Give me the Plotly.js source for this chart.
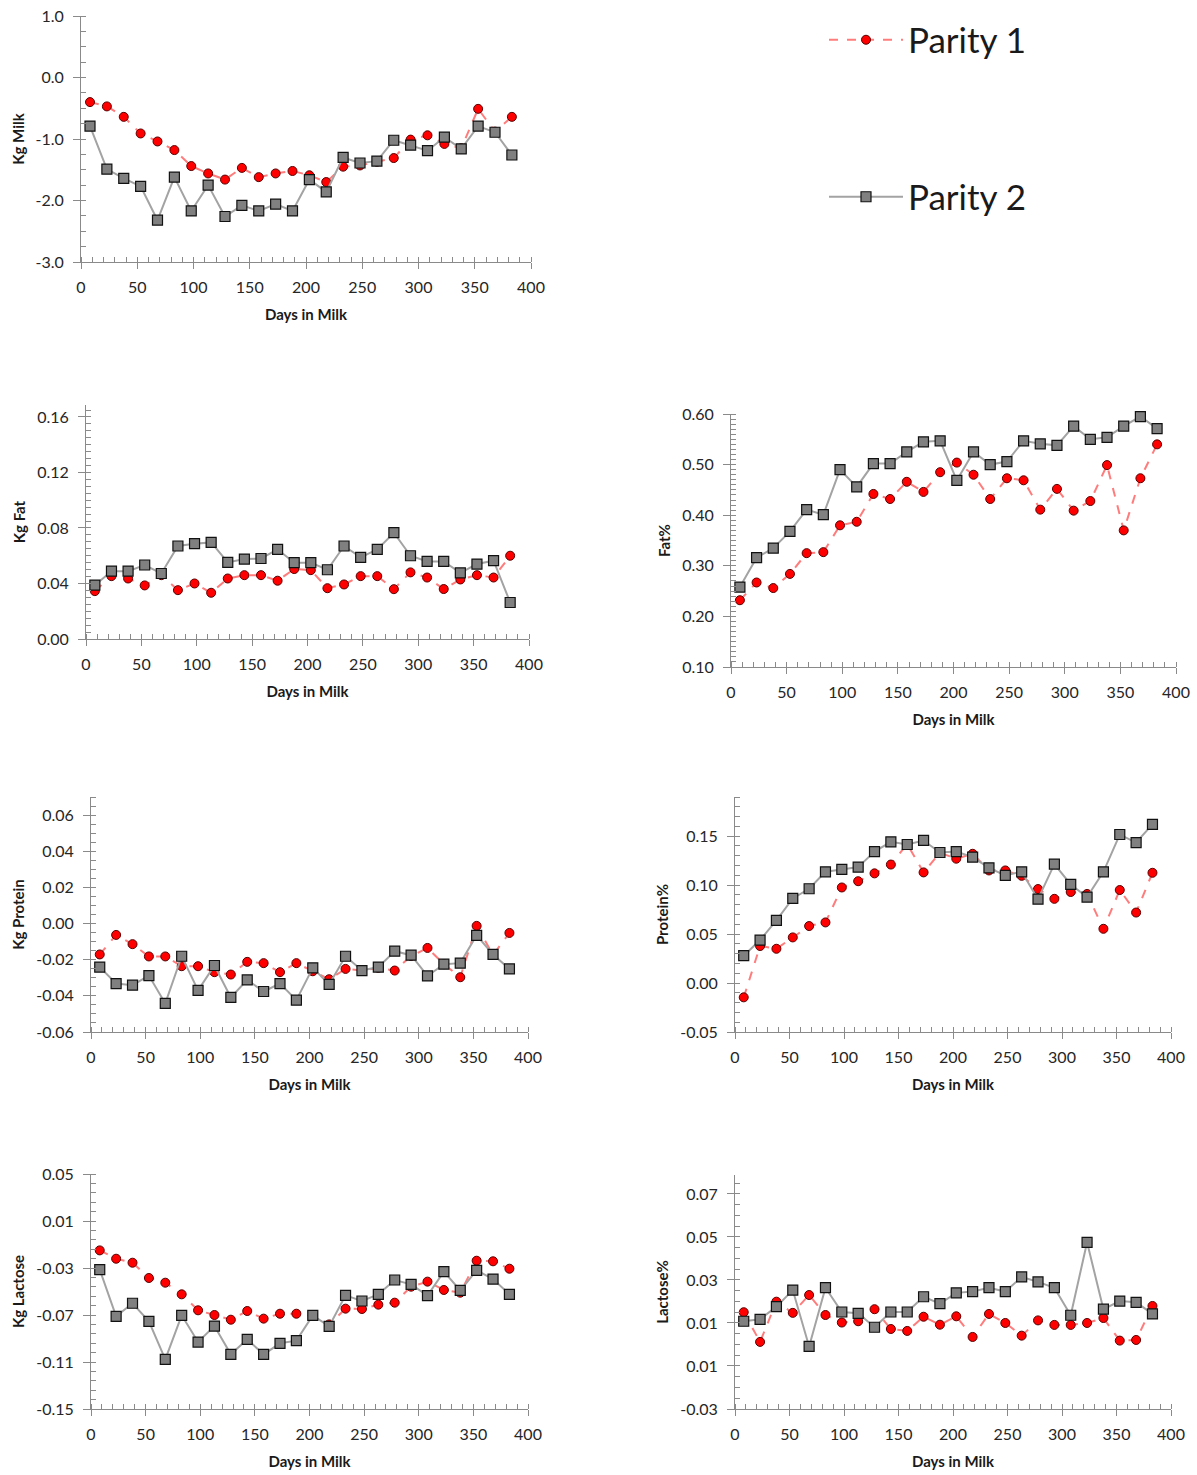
<!DOCTYPE html>
<html>
<head>
<meta charset="utf-8">
<script src="https://cdn.plot.ly/plotly-3.0.1.min.js"></script>
<style>
  html, body { margin: 0; padding: 0; background: #ffffff; }
  #chart { width: 1197px; height: 1475px; }
</style>
</head>
<body>
<div id="chart"></div>
<script>
// ---------- data ----------
const days = [8, 23, 38, 53, 68, 83, 98, 113, 128, 143, 158, 173, 188, 203, 218, 233, 248, 263, 278, 293, 308, 323, 338, 353, 368, 383];

const milkP1 = [-0.40, -0.47, -0.64, -0.91, -1.04, -1.18, -1.44, -1.56, -1.66, -1.47, -1.62, -1.56, -1.52, -1.59, -1.70, -1.45, -1.43, -1.37, -1.31, -1.01, -0.94, -1.08, -1.15, -0.51, -0.88, -0.64];
const milkP2 = [-0.79, -1.49, -1.64, -1.77, -2.32, -1.62, -2.17, -1.75, -2.26, -2.08, -2.17, -2.06, -2.17, -1.66, -1.86, -1.30, -1.39, -1.36, -1.02, -1.10, -1.19, -0.97, -1.16, -0.79, -0.89, -1.26];

const fatKgP1 = [0.0345, 0.0453, 0.0436, 0.0386, 0.046, 0.0352, 0.0400, 0.0333, 0.0436, 0.0460, 0.0460, 0.0420, 0.0504, 0.0496, 0.0366, 0.0393, 0.0453, 0.0453, 0.0359, 0.0480, 0.0443, 0.0360, 0.0429, 0.0460, 0.0443, 0.0600];
const fatKgP2 = [0.0388, 0.0489, 0.0489, 0.0533, 0.0472, 0.0670, 0.0687, 0.0696, 0.0552, 0.0576, 0.0580, 0.0646, 0.0550, 0.0550, 0.0499, 0.0670, 0.0588, 0.0646, 0.0766, 0.0600, 0.0559, 0.0559, 0.0477, 0.0540, 0.0564, 0.0263];

const fatPctP1 = [0.232, 0.267, 0.256, 0.284, 0.325, 0.327, 0.380, 0.387, 0.442, 0.432, 0.466, 0.446, 0.485, 0.504, 0.480, 0.432, 0.473, 0.469, 0.411, 0.452, 0.409, 0.428, 0.499, 0.370, 0.473, 0.540];
const fatPctP2 = [0.258, 0.316, 0.335, 0.368, 0.411, 0.401, 0.490, 0.456, 0.502, 0.502, 0.525, 0.545, 0.547, 0.469, 0.525, 0.500, 0.506, 0.547, 0.541, 0.538, 0.576, 0.550, 0.554, 0.576, 0.595, 0.571];

const protKgP1 = [-0.0171, -0.0063, -0.0114, -0.0182, -0.0182, -0.0236, -0.0236, -0.0269, -0.0282, -0.0212, -0.0219, -0.0269, -0.0219, -0.0264, -0.0308, -0.0251, -0.0260, -0.0245, -0.0260, -0.0180, -0.0135, -0.0225, -0.0297, -0.0013, -0.0173, -0.0052];
const protKgP2 = [-0.0241, -0.0332, -0.0341, -0.0288, -0.0442, -0.0181, -0.0370, -0.0232, -0.0409, -0.0312, -0.0376, -0.0332, -0.0424, -0.0245, -0.0337, -0.0181, -0.0260, -0.0241, -0.0153, -0.0175, -0.0290, -0.0225, -0.0219, -0.0065, -0.0171, -0.0251];

const protPctP1 = [-0.0146, 0.0378, 0.0350, 0.0466, 0.0582, 0.0619, 0.0976, 0.1040, 0.1120, 0.1210, 0.1420, 0.1130, 0.1330, 0.1270, 0.1320, 0.1150, 0.1150, 0.1095, 0.0960, 0.0860, 0.0930, 0.0910, 0.0554, 0.0950, 0.0720, 0.1126];
const protPctP2 = [0.0279, 0.0439, 0.0640, 0.0864, 0.0963, 0.1136, 0.1160, 0.1184, 0.1343, 0.1442, 0.1415, 0.1456, 0.1333, 0.1343, 0.1286, 0.1177, 0.1100, 0.1136, 0.0857, 0.1214, 0.1007, 0.0878, 0.1136, 0.1517, 0.1435, 0.1620];

const lactKgP1 = [-0.0150, -0.0221, -0.0255, -0.0385, -0.0425, -0.0524, -0.0660, -0.0700, -0.0740, -0.0666, -0.0731, -0.0689, -0.0689, -0.0703, -0.0780, -0.0646, -0.0649, -0.0612, -0.0595, -0.0459, -0.0416, -0.0487, -0.0510, -0.0238, -0.0243, -0.0306];
const lactKgP2 = [-0.0314, -0.0711, -0.0600, -0.0754, -0.1077, -0.0703, -0.0930, -0.0794, -0.1035, -0.0907, -0.1035, -0.0941, -0.0918, -0.0703, -0.0796, -0.0533, -0.0581, -0.0524, -0.0402, -0.0439, -0.0535, -0.0331, -0.0490, -0.0320, -0.0394, -0.0524];

const lactPctP1 = [0.0150, 0.0012, 0.0199, 0.0147, 0.0230, 0.0137, 0.0102, 0.0108, 0.0164, 0.0072, 0.0063, 0.0129, 0.0092, 0.0131, 0.0035, 0.0142, 0.0100, 0.0041, 0.0112, 0.0091, 0.0091, 0.0100, 0.0123, 0.0018, 0.0021, 0.0179];
const lactPctP2 = [0.0108, 0.0117, 0.0176, 0.0253, -0.0009, 0.0264, 0.0151, 0.0145, 0.0080, 0.0151, 0.0151, 0.0222, 0.0190, 0.0240, 0.0246, 0.0264, 0.0246, 0.0314, 0.0291, 0.0264, 0.0136, 0.0475, 0.0164, 0.0202, 0.0196, 0.0142];

// ---------- tick labels ----------
const xTickVals = [0, 50, 100, 150, 200, 250, 300, 350, 400];
const xTickText = ["0", "50", "100", "150", "200", "250", "300", "350", "400"];

const milkTickVals = [-3, -2, -1, 0, 1];
const milkTickText = ["-3.0", "-2.0", "-1.0", "0.0", "1.0"];
const fatKgTickVals = [0, 0.04, 0.08, 0.12, 0.16];
const fatKgTickText = ["0.00", "0.04", "0.08", "0.12", "0.16"];
const fatPctTickVals = [0.1, 0.2, 0.3, 0.4, 0.5, 0.6];
const fatPctTickText = ["0.10", "0.20", "0.30", "0.40", "0.50", "0.60"];
const protKgTickVals = [-0.06, -0.04, -0.02, 0, 0.02, 0.04, 0.06];
const protKgTickText = ["-0.06", "-0.04", "-0.02", "0.00", "0.02", "0.04", "0.06"];
const protPctTickVals = [-0.05, 0, 0.05, 0.10, 0.15];
const protPctTickText = ["-0.05", "0.00", "0.05", "0.10", "0.15"];
const lactKgTickVals = [-0.15, -0.11, -0.07, -0.03, 0.01, 0.05];
const lactKgTickText = ["-0.15", "-0.11", "-0.07", "-0.03", "0.01", "0.05"];
const lactPctTickVals = [-0.03, -0.01, 0.01, 0.03, 0.05, 0.07];
const lactPctTickText = ["-0.03", "0.01", "0.01", "0.03", "0.05", "0.07"];

const seriesNames = ["Parity 1", "Parity 2"];

// ---------- styles ----------
const W = 1197, H = 1475;
const AXIS_COLOR = "#8a8a8a";
const TICK_FONT = {family: "Lato, 'Open Sans', sans-serif", size: 16, color: "#262626"};
const TITLE_FONT = {family: "Lato, 'Open Sans', sans-serif", size: 15, color: "#1a1a1a", weight: "bold"};

const p1Style = {
  mode: "lines+markers",
  line: {color: "#ff7c7c", width: 2, dash: "dash"},
  marker: {symbol: "circle", size: 9, color: "#ff0000", line: {color: "#5a0000", width: 1}}
};
const p2Style = {
  mode: "lines+markers",
  line: {color: "#a3a3a3", width: 2},
  marker: {symbol: "square", size: 10, color: "#808080", line: {color: "#111111", width: 1.2}}
};

const panels = [
  {p1: milkP1, p2: milkP2, box: [81, 531, 16, 262], yr: [-3, 1], tv: milkTickVals, tt: milkTickText, minor: 0.25, title: "Kg Milk"},
  {p1: fatKgP1, p2: fatKgP2, box: [86, 529, 405, 639], yr: [0, 0.1686], tv: fatKgTickVals, tt: fatKgTickText, minor: 0.005, title: "Kg Fat"},
  {p1: fatPctP1, p2: fatPctP2, box: [731, 1176, 414, 667], yr: [0.1, 0.6], tv: fatPctTickVals, tt: fatPctTickText, minor: 0.01, title: "Fat%"},
  {p1: protKgP1, p2: protKgP2, box: [91, 528, 797, 1032], yr: [-0.06, 0.07], tv: protKgTickVals, tt: protKgTickText, minor: 0.005, title: "Kg Protein"},
  {p1: protPctP1, p2: protPctP2, box: [735, 1171, 797, 1032], yr: [-0.05, 0.19], tv: protPctTickVals, tt: protPctTickText, minor: 0.01, title: "Protein%"},
  {p1: lactKgP1, p2: lactKgP2, box: [91, 528, 1174, 1409], yr: [-0.15, 0.05], tv: lactKgTickVals, tt: lactKgTickText, minor: 0.008, title: "Kg Lactose"},
  {p1: lactPctP1, p2: lactPctP2, box: [735, 1171, 1175, 1409], yr: [-0.03, 0.0788], tv: lactPctTickVals, tt: lactPctTickText, minor: 0.005, title: "Lactose%"}
];

const data = [];
const legendFont = {family: "Lato, 'Open Sans', sans-serif", size: 35, color: "#1a1a1a"};
const layout = {
  width: W, height: H,
  margin: {l: 0, r: 0, t: 0, b: 0},
  paper_bgcolor: "#ffffff",
  plot_bgcolor: "#ffffff",
  font: {family: "Lato, 'Open Sans', sans-serif", color: "#1a1a1a"},
  showlegend: true,
  legend: {
    x: 824 / W, y: 1 - 40 / H, xanchor: "left", yanchor: "middle",
    font: legendFont, itemwidth: 74, bgcolor: "rgba(0,0,0,0)", borderwidth: 0
  },
  legend2: {
    x: 824 / W, y: 1 - 197 / H, xanchor: "left", yanchor: "middle",
    font: legendFont, itemwidth: 74, bgcolor: "rgba(0,0,0,0)", borderwidth: 0
  }
};

panels.forEach((p, i) => {
  const n = i === 0 ? "" : String(i + 1);
  const xa = "x" + n, ya = "y" + n;
  data.push(Object.assign({}, p1Style, {
    x: days, y: p.p1, xaxis: xa, yaxis: ya, name: seriesNames[0],
    showlegend: i === 0, legend: "legend", cliponaxis: false
  }));
  data.push(Object.assign({}, p2Style, {
    x: days, y: p.p2, xaxis: xa, yaxis: ya, name: seriesNames[1],
    showlegend: i === 0, legend: "legend2", cliponaxis: false
  }));
  const [l, r, t, b] = p.box;
  layout["xaxis" + n] = {
    domain: [l / W, r / W], anchor: ya, range: [0, 400],
    tickmode: "array", tickvals: xTickVals, ticktext: xTickText,
    showgrid: false, zeroline: false, showline: true, linecolor: AXIS_COLOR, linewidth: 1,
    ticks: "outside", ticklen: 6, tickcolor: AXIS_COLOR, tickwidth: 1,
    ticklabelstandoff: 5,
    minor: {ticks: "inside", ticklen: 5, tickcolor: AXIS_COLOR, tickwidth: 1, tickmode: "linear", tick0: 0, dtick: 10, showgrid: false},
    tickfont: TICK_FONT,
    title: {text: "Days in Milk", font: TITLE_FONT, standoff: 14}
  };
  layout["yaxis" + n] = {
    domain: [1 - b / H, 1 - t / H], anchor: xa, range: p.yr,
    tickmode: "array", tickvals: p.tv, ticktext: p.tt,
    showgrid: false, zeroline: false, showline: true, linecolor: AXIS_COLOR, linewidth: 1,
    ticks: "outside", ticklen: 7, tickcolor: AXIS_COLOR, tickwidth: 1,
    ticklabelstandoff: 6,
    minor: {ticks: "inside", ticklen: 5, tickcolor: AXIS_COLOR, tickwidth: 1, tickmode: "linear", tick0: p.yr[0], dtick: p.minor, showgrid: false},
    tickfont: TICK_FONT,
    title: {text: p.title, font: TITLE_FONT, standoff: 7}
  };
});

Plotly.newPlot("chart", data, layout, {displayModeBar: false, staticPlot: true});
</script>
</body>
</html>
